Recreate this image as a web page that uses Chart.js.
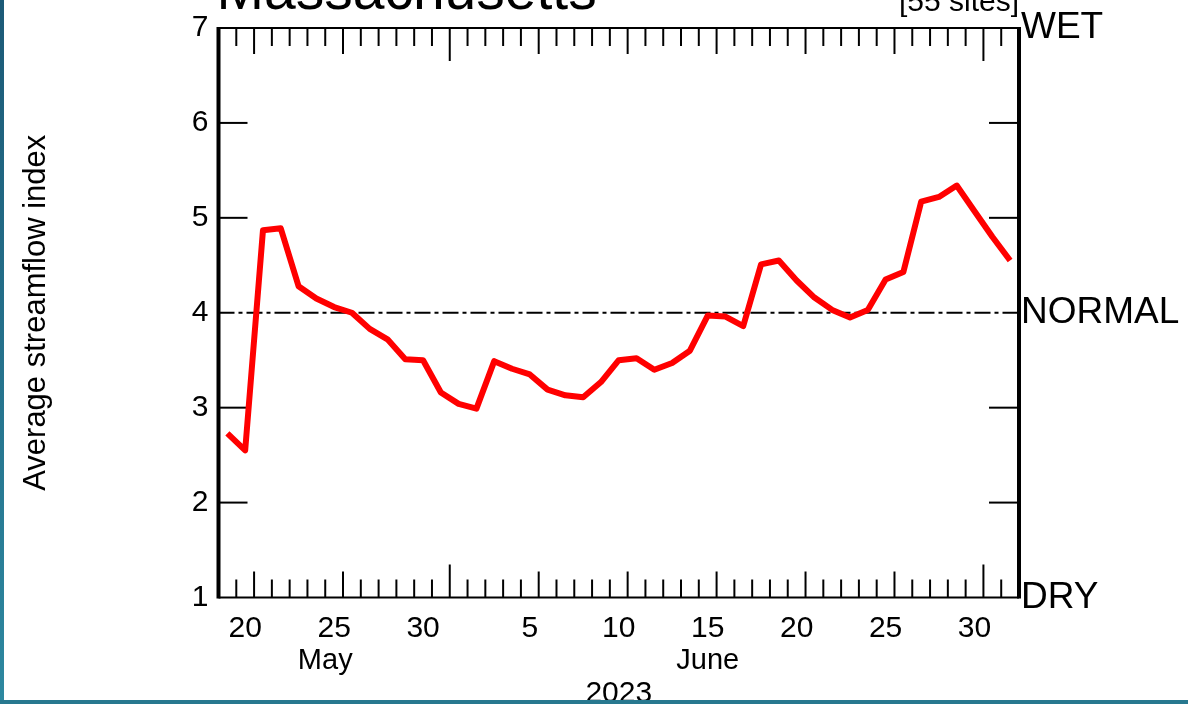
<!DOCTYPE html>
<html><head><meta charset="utf-8">
<script src="https://cdn.jsdelivr.net/npm/chart.js@4"></script>
<style>
html,body{margin:0;padding:0;background:#fff;}
#wrap{position:relative;width:1188px;height:704px;overflow:hidden;background:#fff;}
#c{position:absolute;left:0;top:0;}
#lb{position:absolute;left:0;top:0;width:4px;height:704px;background:linear-gradient(#1c5a77,#2d88a0);}
#bb{position:absolute;left:0;top:700px;width:1188px;height:4px;background:#27788f;}
</style></head><body>
<div id="wrap"><canvas id="c" width="1188" height="704"></canvas><div id="lb"></div><div id="bb"></div></div>
<script>
const axisStart = '2023-05-19';
const axisEnd = '2023-07-03';
const dates = [
  '2023-05-19','2023-05-20','2023-05-21','2023-05-22','2023-05-23','2023-05-24','2023-05-25','2023-05-26',
  '2023-05-27','2023-05-28','2023-05-29','2023-05-30','2023-05-31',
  '2023-06-01','2023-06-02','2023-06-03','2023-06-04','2023-06-05','2023-06-06','2023-06-07','2023-06-08',
  '2023-06-09','2023-06-10','2023-06-11','2023-06-12','2023-06-13','2023-06-14','2023-06-15','2023-06-16',
  '2023-06-17','2023-06-18','2023-06-19','2023-06-20','2023-06-21','2023-06-22','2023-06-23','2023-06-24',
  '2023-06-25','2023-06-26','2023-06-27','2023-06-28','2023-06-29','2023-06-30',
  '2023-07-01','2023-07-02'
];
const streamflowIndex = [
  2.73, 2.55, 4.87, 4.89, 4.28, 4.15, 4.06, 4.00,
  3.83, 3.72, 3.51, 3.50, 3.16,
  3.04, 2.99, 3.49, 3.41, 3.35, 3.19, 3.13, 3.11,
  3.27, 3.50, 3.52, 3.40, 3.47, 3.60, 3.97, 3.96,
  3.86, 4.51, 4.55, 4.34, 4.16, 4.03, 3.95, 4.03,
  4.35, 4.43, 5.17, 5.22, 5.34, 5.07,
  4.80, 4.55
];
const dayTickDates = ['2023-05-20','2023-05-25','2023-05-30','2023-06-05','2023-06-10','2023-06-15','2023-06-20','2023-06-25','2023-06-30'];
const monthLabels = ['May','June'];
const monthLabelDates = ['2023-05-25T00:00:00Z','2023-06-15T12:00:00Z'];
const yTicks = [1,2,3,4,5,6,7];
const sideLabels = ['DRY','NORMAL','WET'];
const sideLabelValues = [1,4,7];
const normalValue = 4;
const mediumTickDays = [6,11,16,21,26];
const titleText = 'Massachusetts';
const sitesText = '[55 sites]';
const yearText = '2023';
const yTitle = 'Average streamflow index';

const FONT = '"Liberation Sans", Arial, Helvetica, sans-serif';
const DAY = 86400000;
const t0 = Date.parse(axisStart + 'T00:00:00Z');
function off(d){ return (Date.parse(d.length === 10 ? d + 'T00:00:00Z' : d) - t0) / DAY; }
const xMax = off(axisEnd);

const framePlugin = {
  id: 'frame',
  beforeDatasetsDraw(chart){
    const {ctx, chartArea: a, scales: {x, y}} = chart;
    const line = (x1,y1,x2,y2) => { ctx.beginPath(); ctx.moveTo(x1,y1); ctx.lineTo(x2,y2); ctx.stroke(); };
    ctx.save();
    ctx.strokeStyle = '#000';
    ctx.lineWidth = 2;
    ctx.setLineDash([16,4,4,4]);
    const yn = y.getPixelForValue(normalValue);
    line(a.left, yn, a.right, yn);
    ctx.setLineDash([]);
    ctx.lineWidth = 2;
    for (let k = 1; k < xMax; k++) {
      const dom = new Date(t0 + k * DAY).getUTCDate();
      const len = dom === 1 ? 33 : (mediumTickDays.includes(dom) ? 26 : 18);
      const px = x.getPixelForValue(k);
      line(px, a.bottom, px, a.bottom - len);
      line(px, a.top, px, a.top + len);
    }
    for (const v of yTicks) {
      if (v === y.min || v === y.max || v === normalValue) continue;
      const py = y.getPixelForValue(v);
      line(a.left, py, a.left + 29, py);
      line(a.right, py, a.right - 30, py);
    }
    ctx.lineWidth = 2;
    line(a.left, a.top, a.right, a.top);
    line(a.left, a.bottom, a.right, a.bottom);
    ctx.lineWidth = 4;
    line(a.left, a.top - 1, a.left, a.bottom + 1);
    line(a.right, a.top - 1, a.right, a.bottom + 1);
    ctx.restore();
  },
  afterDraw(chart){
    const {ctx, chartArea: a} = chart;
    ctx.save();
    ctx.fillStyle = '#000';
    ctx.textBaseline = 'alphabetic';
    ctx.textAlign = 'left';
    ctx.font = '57px ' + FONT;
    ctx.fillText(titleText, a.left - 2, 9);
    ctx.textAlign = 'right';
    ctx.font = '30px ' + FONT;
    ctx.fillText(sitesText, a.right, 11);
    ctx.restore();
  }
};

new Chart(document.getElementById('c'), {
  type: 'line',
  data: {
    datasets: [{
      data: dates.map((d, i) => ({x: off(d) + 0.5, y: streamflowIndex[i]})),
      borderColor: '#ff0000',
      borderWidth: 6,
      pointRadius: 0,
      tension: 0,
      fill: false,
      borderJoinStyle: 'round',
      xAxisID: 'x',
      yAxisID: 'y'
    }]
  },
  options: {
    responsive: false,
    animation: false,
    devicePixelRatio: 1,
    layout: {padding: {top: 25.5, left: 0, right: 0, bottom: 0}},
    plugins: {legend: {display: false}, tooltip: {enabled: false}, title: {display: false}},
    scales: {
      x: {
        type: 'linear', position: 'bottom', min: 0, max: xMax,
        grid: {display: false, drawTicks: false}, border: {display: false},
        afterBuildTicks: s => { s.ticks = dayTickDates.map(d => ({value: off(d) + 0.5})); },
        ticks: {autoSkip: false, maxRotation: 0, padding: 13, color: '#000', font: {family: FONT, size: 30},
          callback: (v, i) => String(new Date(Date.parse(dayTickDates[i] + 'T00:00:00Z')).getUTCDate())},
        afterFit: s => { s.height = 42; }
      },
      x2: {
        type: 'linear', position: 'bottom', min: 0, max: xMax,
        grid: {display: false, drawTicks: false}, border: {display: false},
        afterBuildTicks: s => { s.ticks = monthLabelDates.map(d => ({value: off(d)})); },
        ticks: {autoSkip: false, maxRotation: 0, padding: 4, color: '#000', font: {family: FONT, size: 29},
          callback: (v, i) => monthLabels[i]},
        title: {display: true, text: yearText, color: '#000', font: {family: FONT, size: 30, lineHeight: 0.66}, padding: 0},
        afterFit: s => { s.height = 704 - 597.5 - 42; }
      },
      y: {
        type: 'linear', position: 'left', min: 1, max: 7,
        grid: {display: false, drawTicks: false}, border: {display: false},
        afterBuildTicks: s => { s.ticks = yTicks.map(v => ({value: v})); },
        ticks: {padding: 10, color: '#000', font: {family: FONT, size: 30}},
        title: {display: true, text: yTitle, color: '#000', font: {family: FONT, size: 31, lineHeight: 1}, padding: {top: 21, bottom: 0}},
        afterFit: s => { s.width = 218.5; }
      },
      yr: {
        type: 'linear', position: 'right', min: 1, max: 7,
        grid: {display: false, drawTicks: false}, border: {display: false},
        afterBuildTicks: s => { s.ticks = sideLabelValues.map(v => ({value: v})); },
        ticks: {padding: 2, color: '#000', font: {family: FONT, size: 37},
          callback: (v, i) => sideLabels[i]},
        afterFit: s => { s.width = 1188 - 1019; }
      }
    }
  },
  plugins: [framePlugin]
});
</script>
</body></html>
